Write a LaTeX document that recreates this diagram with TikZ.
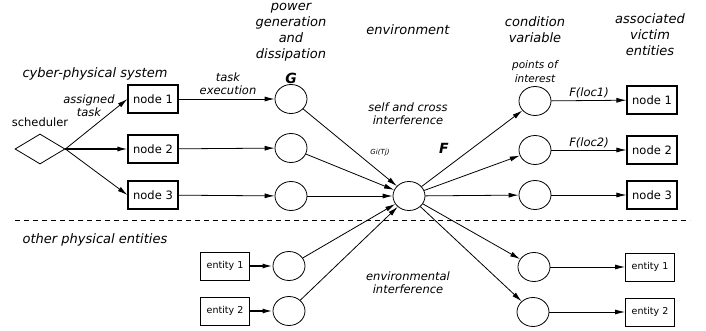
\documentclass[tikz,border=0pt]{standalone}
\usepackage{fontspec}
\setmainfont{DejaVu Sans}
\usetikzlibrary{shapes.geometric,arrows.meta,positioning}

\begin{document}
\begin{tikzpicture}[
  x=1pt, y=-1pt,
  sbox/.style={rectangle, draw, line width=1.1pt, minimum width=50pt, minimum height=28pt,
               inner sep=2pt, font=\fontsize{11.5}{13}\selectfont},
  ebox/.style={sbox, line width=0.9pt, minimum width=49pt, font=\fontsize{9.5}{11}\selectfont},
  pnode/.style={ellipse, draw, line width=0.8pt, minimum width=32pt, minimum height=29pt, inner sep=0pt},
  sched/.style={diamond, draw, line width=0.8pt, aspect=1.67, minimum width=50pt, minimum height=30pt, inner sep=0pt},
  arr/.style={-{Latex[length=10pt,width=5pt]}, line width=0.8pt},
  tarr/.style={arr, line width=1.5pt},
  lbl/.style={font=\fontsize{11.5}{13}\selectfont\itshape, align=center, inner sep=0pt},
  slbl/.style={font=\fontsize{10.5}{14}\selectfont\itshape, align=center, inner sep=0pt},
  grplbl/.style={font=\fontsize{13}{16}\selectfont\itshape, align=center, inner sep=0pt},
  sym/.style={font=\fontsize{14}{16}\selectfont\bfseries\itshape, inner sep=0pt},
]
  \useasboundingbox (0,0) rectangle (706,331);

  % Headings
  \node[grplbl] (hcps) at (95,74) {cyber-physical system};
  \node[grplbl] (hpow) at (291,32) {power\\generation\\and\\dissipation};
  \node[grplbl] (henv) at (408,30) {environment};
  \node[grplbl] (hcond) at (535,30) {condition\\variable};
  \node[grplbl] (hvict) at (650,35) {associated\\victim\\entities};
  \node[grplbl] (hoth) at (95,240) {other physical entities};

  % Scheduler and task nodes
  \node[sched] (sch) at (40,149) {};
  \node[lbl] (schl) at (40,122) {\upshape scheduler};
  \node[sbox] (n1) at (153,99) {node 1};
  \node[sbox] (n2) at (153,149) {node 2};
  \node[sbox] (n3) at (153,195) {node 3};
  \node[lbl] (asg) at (89,106) {assigned\\task};

  % Power generation
  \node[pnode] (g1) at (291,99) {};
  \node[pnode] (g2) at (291,148) {};
  \node[pnode] (g3) at (291,196) {};
  \node[sym] (gl) at (291,78) {G};
  \node[lbl] (texe) at (228,84) {task\\execution};

  % Other physical entities
  \node[ebox] (e1) at (225,266) {entity 1};
  \node[ebox] (e2) at (225,311) {entity 2};
  \node[pnode] (p1) at (289,266) {};
  \node[pnode] (p2) at (289,311) {};

  % Environment
  \node[pnode] (env) at (409,196) {};
  \node[lbl] (self) at (408,114) {self and cross\\interference};
  \node[font=\fontsize{7}{8}\selectfont\itshape, inner sep=0pt] (gij) at (380,153) {Gi(Tj)};
  \node[sym] (fl) at (444,148) {F};
  \node[lbl] (envi) at (408,283) {environmental\\interference};

  % Condition variables
  \node[pnode] (c1) at (535,101) {};
  \node[pnode] (c2) at (535,150) {};
  \node[pnode] (c3) at (535,195) {};
  \node[pnode] (c4) at (534,267) {};
  \node[pnode] (c5) at (533,312) {};
  \node[slbl] (poi) at (535,72) {points of\\interest};
  \node[lbl] (fl1) at (589,93) {F(loc1)};
  \node[lbl] (fl2) at (589,143) {F(loc2)};

  % Victims
  \node[sbox] (v1) at (652,100) {node 1};
  \node[sbox] (v2) at (652,150) {node 2};
  \node[sbox] (v3) at (652,195) {node 3};
  \node[ebox] (v4) at (650,267) {entity 1};
  \node[ebox] (v5) at (650,312) {entity 2};

  % Separator
  \draw[line width=0.8pt, dash pattern=on 5pt off 4pt] (15,220) -- (690,220);

  % Arrows
  \draw[arr] (sch.east) -- (n1.west);
  \draw[arr, line width=1.2pt] (sch.east) -- (n2.west);
  \draw[arr] (sch.east) -- (n3.west);
  \foreach \i in {1,2,3} {
    \draw[arr] (n\i) -- (g\i);
    \draw[arr] (g\i) -- (env);
  }
  \draw[tarr] (e1) -- (p1);
  \draw[tarr] (e2) -- (p2);
  \draw[arr] (p1) -- (env);
  \draw[arr] (p2) -- (env);
  \foreach \i in {1,...,5} {
    \draw[arr] (env) -- (c\i);
    \draw[arr] (c\i) -- (v\i);
  }
\end{tikzpicture}
\end{document}
